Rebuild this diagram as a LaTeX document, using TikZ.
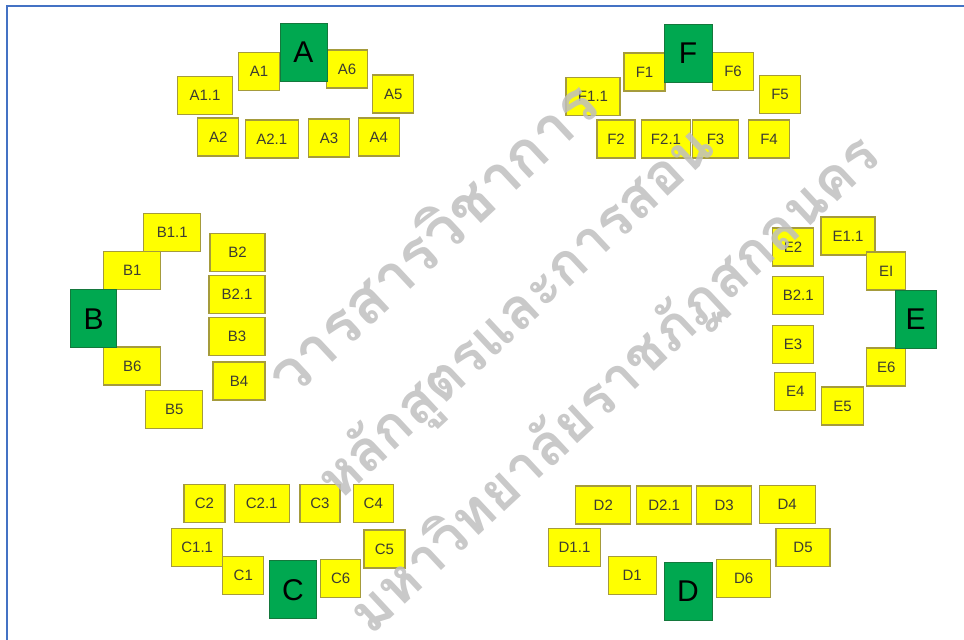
\documentclass[tikz,border=0pt]{standalone}
\usepackage{fontspec}
\setmainfont{Liberation Sans}
\newfontfamily\thaifont[Script=Thai]{Loma}
\usepackage{xcolor}
\usepackage{tikz}
\usetikzlibrary{positioning}

\definecolor{boxyellow}{RGB}{255,255,0}
\definecolor{boxline}{RGB}{165,155,60}
\definecolor{hubgreen}{RGB}{0,168,80}
\definecolor{hubline}{RGB}{20,120,60}
\definecolor{frameblue}{RGB}{68,114,196}
\definecolor{labelgray}{RGB}{60,60,50}

\begin{document}
\begin{tikzpicture}[
x=0.5pt, y=-0.5pt,
box/.style={
    rectangle, draw=boxline, line width=0.6pt,
    fill=boxyellow,
    minimum width=#1,
    minimum height=19pt,
    inner sep=0pt,
    text=labelgray,
    font=\fontsize{7.5}{9}\selectfont
},
box/.default=20.5pt,
hub/.style={
    rectangle, draw=hubline, line width=0.4pt,
    fill=hubgreen,
    minimum width=#1,
    minimum height=29pt,
    inner sep=0pt,
    font=\fontsize{15}{18}\selectfont
},
hub/.default=23.5pt,
wmark/.style={
    text=gray!50, opacity=0.85,
    rotate=43,
    font=\thaifont\bfseries\fontsize{#1}{36}\selectfont
},
wmark/.default=31
]
\useasboundingbox (0,0) rectangle (964,640);
\draw[frameblue, line width=1pt] (7,640) -- (7,6.5) -- (964,6.5);

% group A
\node[box] (a1) at (259,71.5) {A1};
\node[box] (a6) at (347,69) {A6};
\node[box=27.5pt] (a11) at (205,95.3) {A1.1};
\node[box] (a5) at (393.3,94) {A5};
\node[box] (a2) at (218.3,137) {A2};
\node[box=26.5pt] (a21) at (271.7,139) {A2.1};
\node[box] (a3) at (329,138) {A3};
\node[box] (a4) at (378.7,137) {A4};
\node[hub] (a) at (303.5,52.5) {A};

% group F
\node[box] (f1) at (644.5,72) {F1};
\node[box] (f6) at (733,71.7) {F6};
\node[box=27pt] (f11) at (593,96.3) {F1.1};
\node[box] (f5) at (780,94.5) {F5};
\node[box=19pt] (f2) at (616,139) {F2};
\node[box=24.5pt] (f21) at (666,139) {F2.1};
\node[box=23pt] (f3) at (715.5,139) {F3};
\node[box] (f4) at (769,139) {F4};
\node[hub=24pt] (f) at (688,53) {F};

% group B
\node[box=28.5pt] (b11) at (172.3,232.5) {B1.1};
\node[box=28.5pt] (b1) at (132.3,270.5) {B1};
\node[box=28.5pt] (b6) at (132.3,366) {B6};
\node[box=28.5pt] (b5) at (174.3,409.7) {B5};
\node[box=27.5pt] (b2) at (237.5,252.5) {B2};
\node[box=28pt] (b21) at (237,294.7) {B2.1};
\node[box=28pt] (b3) at (237,336.7) {B3};
\node[box=26pt] (b4) at (239,381) {B4};
\node[hub=23pt] (b) at (93.7,318.7) {B};

% group E
\node[box] (e2) at (793,247) {E2};
\node[box=27pt] (e11) at (848,236) {E1.1};
\node[box=19.5pt] (e1) at (886.3,271) {EI};
\node[box=25.5pt] (eb21) at (798.3,295.7) {B2.1};
\node[box] (e3) at (793,344.3) {E3};
\node[box=19.5pt] (e6) at (886.3,367) {E6};
\node[box] (e4) at (795.3,391.7) {E4};
\node[box=21pt] (e5) at (842.5,406) {E5};
\node[hub=20.5pt] (e) at (915.5,319) {E};

% group C
\node[box] (c2) at (204.5,503.3) {C2};
\node[box=27.5pt] (c21) at (261.7,503.3) {C2.1};
\node[box=20pt] (c3) at (320,503.3) {C3};
\node[box=20pt] (c4) at (373.3,503.3) {C4};
\node[box=25.5pt] (c11) at (197.2,547.5) {C1.1};
\node[box] (c5) at (384.5,549) {C5};
\node[box] (c1) at (243.3,575.8) {C1};
\node[box=20pt] (c6) at (340.7,578.7) {C6};
\node[hub] (c) at (293,589.8) {C};

% group D
\node[box=27.5pt] (d2) at (603.3,505) {D2};
\node[box=27.5pt] (d21) at (664.2,505) {D2.1};
\node[box=27.5pt] (d3) at (724.2,505) {D3};
\node[box=28pt] (d4) at (787.2,504.3) {D4};
\node[box=26pt] (d11) at (574.5,547.5) {D1.1};
\node[box=27pt] (d5) at (803,547.5) {D5};
\node[box=24pt] (d1) at (632.2,575.5) {D1};
\node[box=27pt] (d6) at (743.7,578.3) {D6};
\node[hub=24pt] (d) at (688,591) {D};

% watermark
\node[wmark] (wm1) at (430,237) {วารสารวิชาการ};
\node[wmark=28.5] (wm2) at (517,315) {หลักสูตรและการสอน};
\node[wmark=28.5] (wm3) at (615,385) {มหาวิทยาลัยราชภัฏสกลนคร};

\end{tikzpicture}
\end{document}
